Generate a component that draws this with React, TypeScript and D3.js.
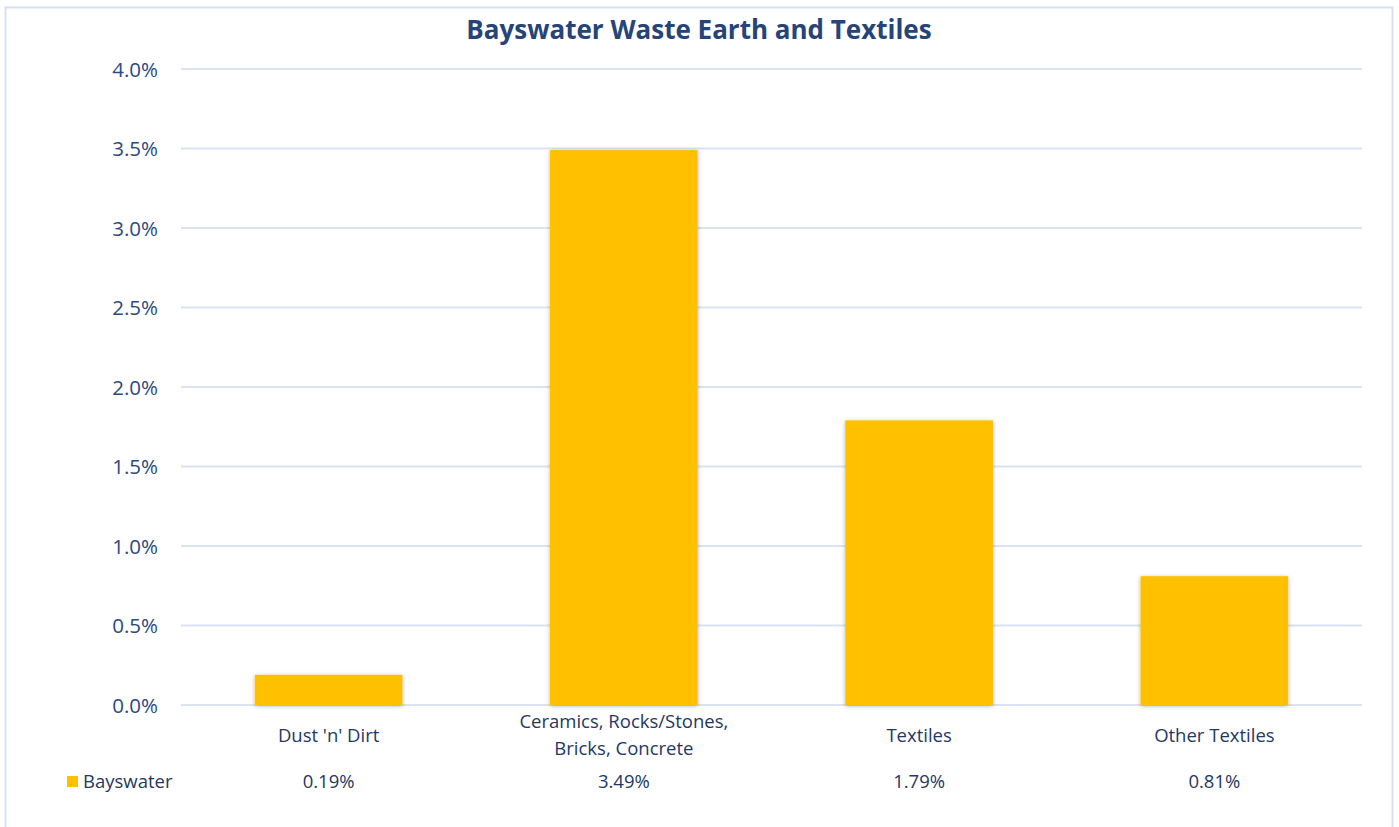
import React from "react";
import * as d3 from "d3";

const categories = ["Dust 'n' Dirt", "Ceramics, Rocks/Stones, Bricks, Concrete", "Textiles", "Other Textiles"];
const categoryLines = [["Dust 'n' Dirt"], ["Ceramics, Rocks/Stones,", "Bricks, Concrete"], ["Textiles"], ["Other Textiles"]];
const seriesName = "Bayswater";
const values = [0.19, 3.49, 1.79, 0.81];
const yTicks = [0, 0.5, 1.0, 1.5, 2.0, 2.5, 3.0, 3.5, 4.0];

const W = 1399, H = 827;
const left = 181, right = 1362, top = 69, bottom = 705;
const font = "'Open Sans', sans-serif";
const textColor = "#1F3864";

export default function App() {
  const x = d3.scaleBand<string>().domain(categories).range([left, right]).paddingInner(0.5).paddingOuter(0.25);
  const y = d3.scaleLinear().domain([0, 4]).range([bottom, top]);
  return (
    <svg width={W} height={H} style={{ position: "absolute", left: 0, top: 0 }}>
      <defs>
        <filter id="sh" x="-10%" y="-10%" width="120%" height="120%">
          <feDropShadow dx="0" dy="1" stdDeviation="2" floodColor="#000" floodOpacity="0.3" />
        </filter>
      </defs>
      <rect x={0} y={0} width={W} height={H} fill="#fff" />
      <rect x={5.5} y={7.5} width={1387} height={830} fill="#fff" stroke="#D6E1F0" strokeWidth={2} />
      <text x={699} y={39} textAnchor="middle" fontFamily={font} fontWeight="bold" fontSize={26} fill="#264478">
        Bayswater Waste Earth and Textiles
      </text>
      {yTicks.map((t) => (
        <g key={t}>
          <line x1={left} x2={right} y1={y(t)} y2={y(t)} stroke="#D9E3F1" strokeWidth={2} />
          <text x={158} y={y(t) + 7.5} textAnchor="end" fontFamily={font} fontSize={20.5} fill="#2A4A80">
            {t.toFixed(1)}%
          </text>
        </g>
      ))}
      {categories.map((c, i) => (
        <rect key={c} x={x(c)} y={y(values[i])} width={x.bandwidth()} height={y(0) - y(values[i])} fill="#FFC000" filter="url(#sh)" />
      ))}
      {categories.map((c, i) => {
        const cx = (x(c) as number) + x.bandwidth() / 2;
        const lines = categoryLines[i];
        const y0 = lines.length === 1 ? 742 : 728;
        return (
          <g key={c}>
            {lines.map((l, j) => (
              <text key={j} x={cx} y={y0 + j * 27} textAnchor="middle" fontFamily={font} fontSize={18.5} fill={textColor}>
                {l}
              </text>
            ))}
            <text x={cx} y={788} textAnchor="middle" fontFamily={font} fontSize={18.5} fill={textColor}>
              {values[i].toFixed(2)}%
            </text>
          </g>
        );
      })}
      <rect x={67} y={776} width={11} height={11} fill="#FFC000" />
      <text x={83} y={788} fontFamily={font} fontSize={18.5} fill={textColor}>{seriesName}</text>
    </svg>
  );
}
